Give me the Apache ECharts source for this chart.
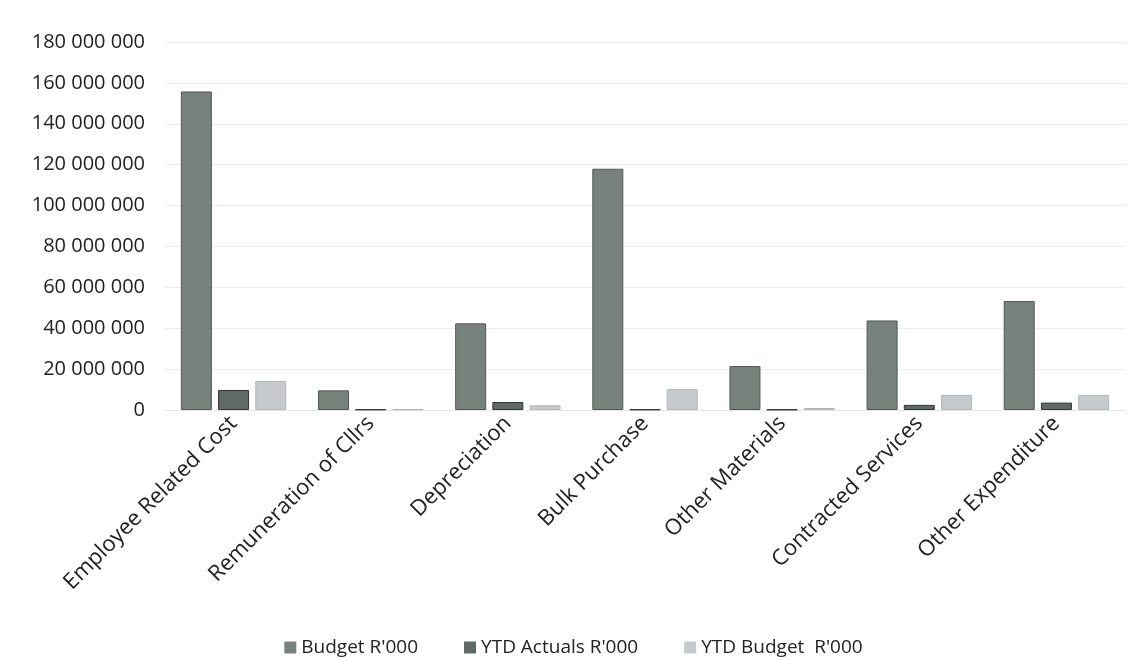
<!DOCTYPE html>
<html>
<head>
<meta charset="utf-8">
<script src="https://cdn.jsdelivr.net/npm/echarts@6/dist/echarts.min.js"></script>
<style>
html,body{margin:0;padding:0;background:#fff;}
#chart{width:1147px;height:660px;}
</style>
</head>
<body>
<div id="chart"></div>
<script>
const categories = ["Employee Related Cost","Remuneration of Cllrs","Depreciation","Bulk Purchase","Other Materials","Contracted Services","Other Expenditure"];
const seriesNames = ["Budget R'000","YTD Actuals R'000","YTD Budget  R'000"];
const budget = [155800000, 9600000, 42400000, 118000000, 21500000, 43800000, 53300000];
const ytdActuals = [9800000, 300000, 3900000, 300000, 200000, 2500000, 3600000];
const ytdBudget = [14200000, 300000, 2300000, 10200000, 1000000, 7400000, 7300000];
const yTicks = {min: 0, max: 180000000, interval: 20000000};

const chart = echarts.init(document.getElementById('chart'), null, {renderer: 'canvas'});
const font = "'Open Sans', 'Noto Sans', sans-serif";
function fmt(v){ return String(v).replace(/\B(?=(\d{3})+(?!\d))/g, ' '); }
const styles = [
  {color:'#78827d', borderColor:'#4f5955'},
  {color:'#5f6965', borderColor:'#2e3532'},
  {color:'#c6cacd', borderColor:'#b3b7ba'}
];
const datas = [budget, ytdActuals, ytdBudget];
chart.setOption({
  backgroundColor:'#fff',
  animation:false,
  textStyle:{fontFamily:font},
  grid:{left:165, right:22, top:42, bottom:250, containLabel:false},
  legend:{
    bottom:-2, left:'center', itemWidth:12, itemHeight:12, itemGap:46,
    icon:'rect',
    itemStyle:{borderWidth:0},
    textStyle:{fontSize:19, color:'#222', fontFamily:font},
    data:seriesNames
  },
  xAxis:{
    type:'category', data:categories,
    axisLine:{show:true, lineStyle:{color:'#e6e6e6'}},
    axisTick:{show:false},
    axisLabel:{rotate:45, fontSize:22, color:'#222', margin:10, interval:0, fontFamily:font}
  },
  yAxis:{
    type:'value', min:yTicks.min, max:yTicks.max, interval:yTicks.interval,
    axisLine:{show:false}, axisTick:{show:false},
    splitLine:{lineStyle:{color:'#ececec'}},
    axisLabel:{fontSize:20, color:'#222', margin:20, formatter:fmt, fontFamily:font}
  },
  series: seriesNames.map((n,i)=>({
    name:n, type:'bar', data:datas[i], barWidth:31, barGap:'20%',
    itemStyle:{color:styles[i].color, borderColor:styles[i].borderColor, borderWidth:1}
  }))
});
</script>
</body>
</html>
